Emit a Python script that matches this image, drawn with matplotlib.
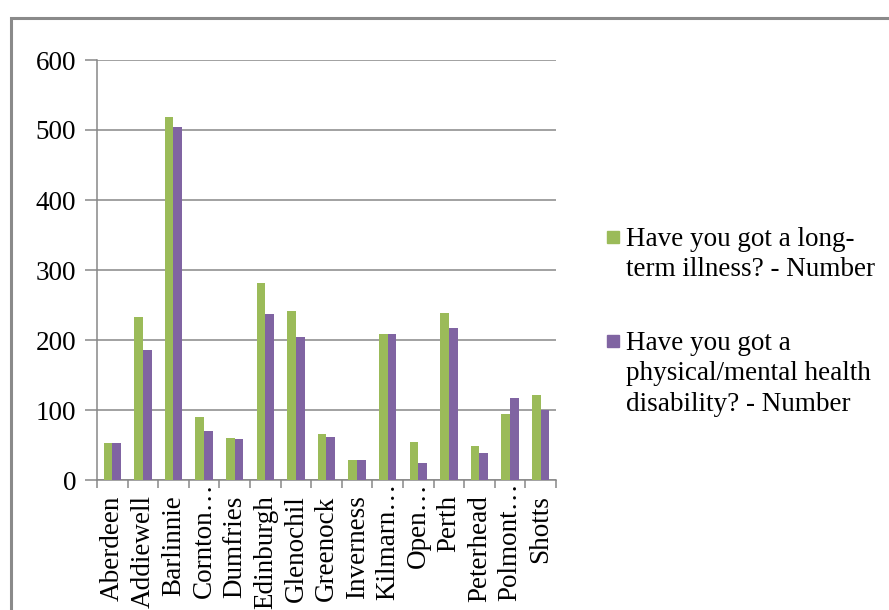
import numpy as np
import matplotlib
matplotlib.use("Agg")
import matplotlib.pyplot as plt
from matplotlib.patches import Rectangle
from matplotlib.transforms import ScaledTranslation

prisons = ["Aberdeen", "Addiewell", "Barlinnie", "Cornton…", "Dumfries",
           "Edinburgh", "Glenochil", "Greenock", "Inverness", "Kilmarn…",
           "Open…", "Perth", "Peterhead", "Polmont…", "Shotts"]
illness = [53, 233, 519, 90, 60, 282, 242, 66, 28, 209, 55, 238, 48, 95, 121]
disability = [53, 186, 504, 70, 58, 237, 205, 61, 28, 209, 24, 217, 38, 117, 100]
series_names = ["Have you got a long-\nterm illness? - Number",
                "Have you got a\nphysical/mental health\ndisability? - Number"]

green = "#9BBB59"
purple = "#8064A2"
grid_col = "#878787"

plt.rcParams["font.family"] = ["Liberation Serif", "DejaVu Serif"]

fig = plt.figure(figsize=(8.89, 6.10), dpi=100)
ax = fig.add_axes([97 / 889, 1 - 480 / 610, (556 - 97) / 889, 420 / 610])

x = np.arange(len(prisons))
w = 0.285
ax.bar(x - w / 2, illness, width=w, color=green, zorder=3)
ax.bar(x + w / 2, disability, width=w, color=purple, zorder=3)

ax.set_xlim(-0.5, len(prisons) - 0.5)
ax.set_ylim(0, 600)
ax.set_yticks(range(0, 601, 100))
ax.yaxis.grid(True, color=grid_col, linewidth=1.1, zorder=0)
ax.tick_params(axis="y", length=9, width=1.1, color=grid_col, pad=6,
               labelsize=19.5)

ax.set_xticks(x)
ax.set_xticklabels(prisons, rotation=90, fontsize=19.5, va="top", ha="center")
ax.set_xticks(np.arange(-0.5, len(prisons)), minor=True)
ax.tick_params(axis="x", which="major", length=0, pad=11)
ax.tick_params(axis="x", which="minor", length=6, width=1.1, color=grid_col)

# truncated names have their ellipsis pushed up over the axis line
for lab in ax.get_xticklabels():
    if lab.get_text().endswith("…"):
        lab.set_transform(lab.get_transform() +
                          ScaledTranslation(0, 0.13, fig.dpi_scale_trans))

for side in ["top", "right"]:
    ax.spines[side].set_visible(False)
for side in ["left", "bottom"]:
    ax.spines[side].set_color(grid_col)
    ax.spines[side].set_linewidth(1.1)

# legend drawn by hand so the swatch sits on the first line of each label
W, H = 889, 610
for col, label, top in [(green, series_names[0], 231), (purple, series_names[1], 335)]:
    fig.patches.append(Rectangle((607 / W, 1 - (top + 12) / H), 12 / W, 12 / H,
                                 transform=fig.transFigure, color=col))
    fig.text(626 / W, 1 - (top - 4) / H, label, fontsize=19.5,
             va="top", ha="left", linespacing=1.28)

# outer chart frame
fig.patches.append(Rectangle((10.5 / W, -0.2), 1.5, 1.2 - 17.5 / H,
                             transform=fig.transFigure, fill=False,
                             edgecolor="#8a8a8a", linewidth=2.2))

fig.savefig("out.png", dpi=100)
